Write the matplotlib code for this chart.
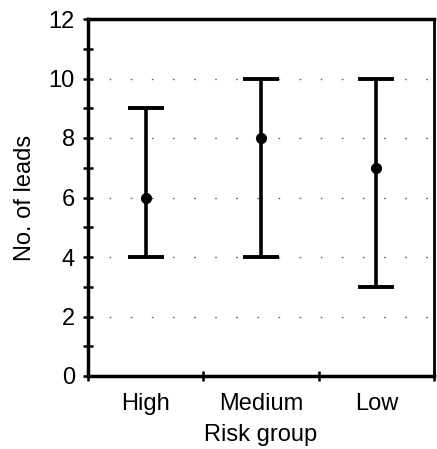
import matplotlib
matplotlib.use("Agg")
import matplotlib.pyplot as plt
import numpy as np

categories = ["High", "Medium", "Low"]
medians = [6, 8, 7]
lows = [4, 4, 3]
highs = [9, 10, 10]

plt.rcParams['font.family'] = ['Liberation Sans', 'DejaVu Sans']

fig = plt.figure(figsize=(4.37, 4.49), dpi=100)
W, H = 437, 449
ax = fig.add_axes([88 / W, 1 - 376 / H, (434 - 88) / W, (376 - 19) / H])

x = np.arange(len(categories)) + 0.5
med = np.array(medians)
lo = np.array(lows)
hi = np.array(highs)
ax.errorbar(x, med, yerr=[med - lo, hi - med], fmt='o', color='black',
            ecolor='black', elinewidth=2.6, capsize=13, capthick=2.8,
            markersize=7, zorder=3)

ax.set_xlim(0, 3)
ax.set_ylim(0, 12)
ax.set_yticks(np.arange(0, 13, 2))
ax.set_yticks(np.arange(1, 12, 2), minor=True)
ax.set_xticks([0, 1, 2, 3])
ax.set_xticklabels([])
ax.set_xticks(x, minor=True)
ax.set_xticklabels(categories, minor=True, fontsize=17)
ax.tick_params(axis='x', which='minor', length=0, pad=12)
ax.tick_params(axis='x', which='major', direction='inout', length=7, width=1.8)
ax.tick_params(axis='y', which='both', direction='inout', length=7, width=1.8, labelsize=17, pad=6)

for gy in [2, 4, 6, 8, 10]:
    ax.axhline(gy, color='#666666', linestyle=(0, (1.2, 14)), linewidth=1.0, zorder=1)

for s in ax.spines.values():
    s.set_linewidth(2.5)
ax.spines['right'].set_linewidth(2.0)

ax.set_ylabel("No. of leads", fontsize=17, labelpad=9)
ax.set_xlabel("Risk group", fontsize=17, labelpad=7)

fig.savefig("out.png", dpi=100)
